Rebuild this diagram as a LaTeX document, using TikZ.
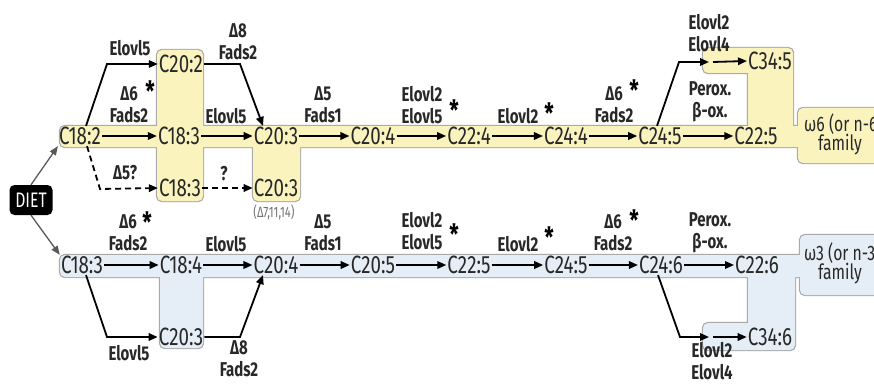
\documentclass[tikz,border=0pt]{standalone}
\usepackage{fontspec}
\setmainfont{Fira Sans}[FakeStretch=0.75]
\usetikzlibrary{arrows.meta}
\definecolor{sixfill}{RGB}{250,243,190}
\definecolor{threefill}{RGB}{229,237,246}
\definecolor{rim}{RGB}{170,170,170}
\definecolor{ink}{RGB}{40,40,40}

\begin{document}
\begin{tikzpicture}[x=1pt,y=-1pt,
  acid/.style={font=\fontsize{25}{25}\selectfont, inner sep=1pt, text=ink},
  enz/.style={font=\bfseries\fontsize{20}{22}\selectfont, align=center, text=ink, inner sep=0pt},
  star/.style={font=\bfseries\fontsize{28}{28}\selectfont, text=black, inner sep=0pt},
  fam/.style={font=\fontsize{21}{21}\selectfont, text=ink, inner sep=0pt},
  note/.style={font=\fontsize{15}{15}\selectfont, text=black!55, inner sep=0pt},
  diet/.style={fill=black, text=white, rounded corners=5pt, minimum width=43pt,
    minimum height=30pt, inner sep=0pt, font=\fontsize{21}{21}\selectfont},
  rx/.style={line width=1.8pt, -{Triangle[length=9pt,width=7.5pt]}},
  dx/.style={rx, dash pattern=on 6pt off 4pt},
  feed/.style={line width=1.3pt, draw=black!65, -{Triangle[length=9pt,width=7pt]}},
  rimline/.style={draw=rim, line width=2.4pt, rounded corners=5pt},
]
\useasboundingbox (0,0) rectangle (874,385);

% shaded pathway areas (omega-6 above, omega-3 below)
\def\sixshape{(60,126) rectangle (806,147) (157,50) rectangle (203,201)
  (253,126) rectangle (300,201) (703,48) rectangle (793,73)
  (748,48) rectangle (793,147) (798,108) rectangle (905,163)}
\def\threeshape{(60,255) rectangle (806,277) (160,255) rectangle (203,348)
  (748,255) rectangle (795,350) (703,323) rectangle (795,350)
  (800,235) rectangle (905,295)}
\draw[rimline] \sixshape;
\draw[rimline] \threeshape;
\fill[sixfill, rounded corners=5pt] \sixshape;
\fill[threefill, rounded corners=5pt] \threeshape;

% omega-6 series
\node[acid] (a1) at (80,136) {C18:2};
\node[acid] (a2) at (179,136) {C18:3};
\node[acid] (a3) at (276,136) {C20:3};
\node[acid] (a4) at (373,136) {C20:4};
\node[acid] (a5) at (469,136) {C22:4};
\node[acid] (a6) at (566,136) {C24:4};
\node[acid] (a7) at (660,136) {C24:5};
\node[acid] (a8) at (756,136) {C22:5};
\node[acid] (u1) at (181,64) {C20:2};
\node[acid] (d1) at (180,188) {C18:3};
\node[acid] (d2) at (276,188) {C20:3};
\node[acid] (u2) at (770,61) {C34:5};
\node[note] (pos) at (274,212) {(Δ7,11,14)};

% omega-3 series
\node[acid] (b1) at (82,265) {C18:3};
\node[acid] (b2) at (181,265) {C18:4};
\node[acid] (b3) at (276,265) {C20:4};
\node[acid] (b4) at (373,265) {C20:5};
\node[acid] (b5) at (469,265) {C22:5};
\node[acid] (b6) at (566,265) {C24:5};
\node[acid] (b7) at (661,265) {C24:6};
\node[acid] (b8) at (757,265) {C22:6};
\node[acid] (e1) at (181,337) {C20:3};
\node[acid] (e2) at (770,337) {C34:6};

% family tags
\node[fam, anchor=west] (f6) at (804,124) {ω6 (or n-6)};
\node[fam] (f6b) at (840,145) {family};
\node[fam, anchor=west] (f3) at (804,253) {ω3 (or n-3)};
\node[fam] (f3b) at (840,274) {family};

% diet source
\node[diet] (diet) at (31,200) {DIET};
\draw[feed] (diet.north) -- (a1.south west);
\draw[feed] (diet.south) -- (b1.north west);

% bend points of the side branches
\coordinate (k1) at (107,64);
\coordinate (k2) at (240,64);
\coordinate (k3) at (100,189);
\coordinate (k4) at (679,62);
\coordinate (k5) at (709,62);
\coordinate (k6) at (713,62);
\coordinate (m1) at (107,337);
\coordinate (m2) at (240,337);
\coordinate (m3) at (680,337);
\coordinate (m4) at (709,337);
\coordinate (m5) at (713,337);

% omega-6 reactions
\draw[rx] (a1) -- (a2);
\draw[rx] (a2) -- (a3);
\draw[rx] (a3) -- (a4);
\draw[rx] (a4) -- (a5);
\draw[rx] (a5) -- (a6);
\draw[rx] (a6) -- (a7);
\draw[rx] (a7) -- (a8);
\draw[rx] ([xshift=6pt]a1.north) -- (k1) -- (u1.west);
\draw[rx] (u1.east) -- (k2) -- ([xshift=-13pt]a3.north);
\draw[dx] ([xshift=7pt]a1.south) -- (k3) -- (d1.west);
\draw[dx] (d1) -- (d2);
\draw[rx] ([xshift=-3pt]a7.north) -- (k4) -- (k5);
\draw[rx] (k6) -- (u2.west);

% omega-3 reactions
\draw[rx] (b1) -- (b2);
\draw[rx] (b2) -- (b3);
\draw[rx] (b3) -- (b4);
\draw[rx] (b4) -- (b5);
\draw[rx] (b5) -- (b6);
\draw[rx] (b6) -- (b7);
\draw[rx] (b7) -- (b8);
\draw[rx] ([xshift=4pt]b1.south) -- (m1) -- (e1.west);
\draw[rx] (e1.east) -- (m2) -- ([xshift=-13pt]b3.south);
\draw[rx] ([xshift=-3pt]b7.south) -- (m3) -- (m4);
\draw[rx] (m5) -- (e2.west);

% enzyme labels, omega-6
\node[enz] at (130,48) {Elovl5};
\node[enz] at (129,105) {Δ6\\Fads2};
\node[star] at (150,91) {*};
\node[enz] at (238,42) {Δ8\\Fads2};
\node[enz] at (226,116) {Elovl5};
\node[enz] at (125,173) {Δ5?};
\node[enz] at (224,174) {?};
\node[enz] at (323,105) {Δ5\\Fads1};
\node[enz] at (422,105) {Elovl2\\Elovl5};
\node[star] at (454,110) {*};
\node[enz] at (518,116) {Elovl2};
\node[star] at (549,113) {*};
\node[enz] at (614,105) {Δ6\\Fads2};
\node[star] at (634,90) {*};
\node[enz] at (709,33) {Elovl2\\Elovl4};
\node[enz] at (710,102) {Perox.\\β-ox.};

% enzyme labels, omega-3
\node[enz] at (128,233) {Δ6\\Fads2};
\node[star] at (147,222) {*};
\node[enz] at (226,244) {Elovl5};
\node[enz] at (129,353) {Elovl5};
\node[enz] at (239,359) {Δ8\\Fads2};
\node[enz] at (323,233) {Δ5\\Fads1};
\node[enz] at (422,231) {Elovl2\\Elovl5};
\node[star] at (454,234) {*};
\node[enz] at (518,244) {Elovl2};
\node[star] at (549,237) {*};
\node[enz] at (613,233) {Δ6\\Fads2};
\node[star] at (634,220) {*};
\node[enz] at (710,233) {Perox.\\β-ox.};
\node[enz] at (712,361) {Elovl2\\Elovl4};
\end{tikzpicture}
\end{document}
